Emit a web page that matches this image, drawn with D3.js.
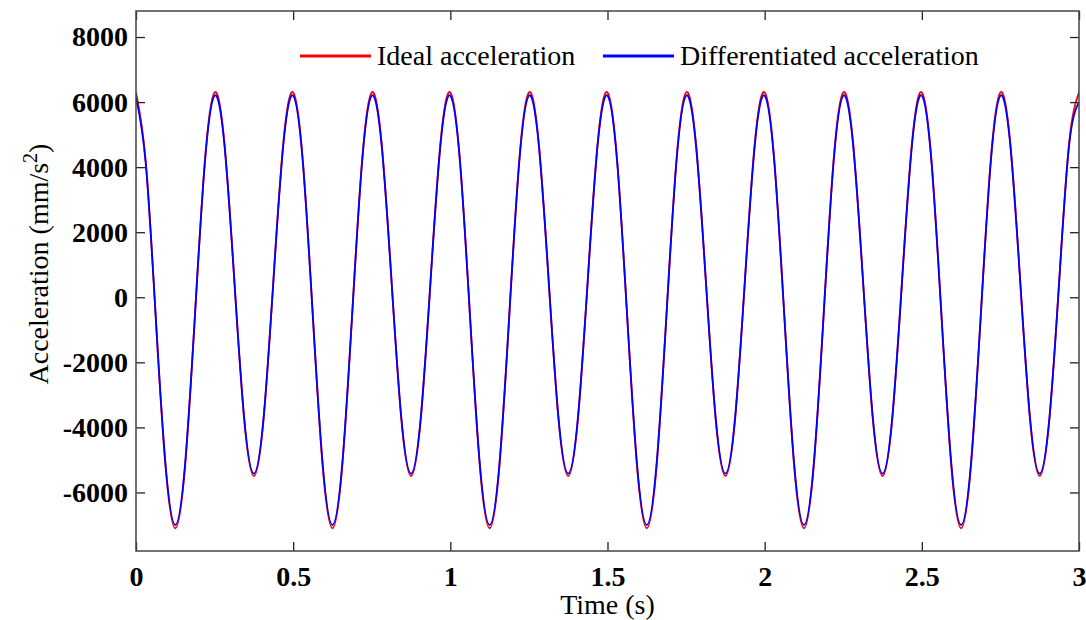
<html>
    <head>
        <style>
            body { margin: 0; background: #fff; }
            text { font-family: "Liberation Serif", "Times New Roman", serif; }
        </style>
        <script src="https://d3js.org/d3.v7.min.js"></script>
    </head>
    <body>
        <svg id="plot" width="1086" height="620"></svg>
        <script>
            // sample spacing of both series (s)
            const sampleStep = 1 / 32;

            // Ideal acceleration (mm/s^2), every 1/32 s
            const idealAcc = [
                6300, 4150, -570, -5190, -7100, -5190, -570, 4150, 6300, 4760, 570, -3720, -5500, -3720, 570, 4760,
                6300, 4150, -570, -5190, -7100, -5190, -570, 4150, 6300, 4760, 570, -3720, -5500, -3720, 570, 4760,
                6300, 4150, -570, -5190, -7100, -5190, -570, 4150, 6300, 4760, 570, -3720, -5500, -3720, 570, 4760,
                6300, 4150, -570, -5190, -7100, -5190, -570, 4150, 6300, 4760, 570, -3720, -5500, -3720, 570, 4760,
                6300, 4150, -570, -5190, -7100, -5190, -570, 4150, 6300, 4760, 570, -3720, -5500, -3720, 570, 4760,
                6300, 4150, -570, -5190, -7100, -5190, -570, 4150, 6300, 4760, 570, -3720, -5500, -3720, 570, 4760,
                6300
            ];

            // Differentiated acceleration (mm/s^2), same sample times
            const diffAcc = [
                6150, 4090, -560, -5110, -7000, -5110, -560, 4090, 6200, 4690, 560, -3660, -5420, -3660, 560, 4690,
                6200, 4090, -560, -5110, -7000, -5110, -560, 4090, 6200, 4690, 560, -3660, -5420, -3660, 560, 4690,
                6200, 4090, -560, -5110, -7000, -5110, -560, 4090, 6200, 4690, 560, -3660, -5420, -3660, 560, 4690,
                6200, 4090, -560, -5110, -7000, -5110, -560, 4090, 6200, 4690, 560, -3660, -5420, -3660, 560, 4690,
                6200, 4090, -560, -5110, -7000, -5110, -560, 4090, 6200, 4690, 560, -3660, -5420, -3660, 560, 4690,
                6200, 4090, -560, -5110, -7000, -5110, -560, 4090, 6200, 4690, 560, -3660, -5420, -3660, 560, 4690,
                6000
            ];

            const xTicks = [0, 0.5, 1, 1.5, 2, 2.5, 3];
            const yTicks = [-6000, -4000, -2000, 0, 2000, 4000, 6000, 8000];
            const seriesNames = ["Ideal acceleration", "Differentiated acceleration"];
            const seriesColors = ["#ff0000", "#0000ff"];

            const margin = {top: 11, right: 7, bottom: 69, left: 136};
            const width = 1086 - margin.left - margin.right;
            const height = 620 - margin.top - margin.bottom;

            const svg = d3.select('#plot');
            const g = svg.append('g').attr('transform', `translate(${margin.left}, ${margin.top})`);

            const xScale = d3.scaleLinear().domain([0, 3]).range([0, width]);
            const yScale = d3.scaleLinear().domain([-7800, 8800]).range([height, 0]);

            // curves
            const line = d3.line()
                .x((d, i) => xScale(i * sampleStep))
                .y(d => yScale(d))
                .curve(d3.curveNatural);

            g.append('defs').append('clipPath').attr('id', 'clip')
                .append('rect').attr('width', width).attr('height', height);

            [idealAcc, diffAcc].forEach((series, k) => {
                g.append('path')
                    .datum(series)
                    .attr('clip-path', 'url(#clip)')
                    .attr('fill', 'none')
                    .attr('stroke', seriesColors[k])
                    .attr('stroke-width', 1.8)
                    .attr('d', line);
            });

            // axes with inward ticks on all four sides
            const fmt = d => String(d);
            const styleAxis = sel => {
                sel.select('.domain').remove();
                sel.selectAll('.tick line').attr('stroke', '#222').attr('stroke-width', 1.3);
                sel.selectAll('.tick text')
                    .attr('fill', '#000')
                    .style('font-size', '28px')
                    .style('font-weight', 'bold');
            };

            g.append('g')
                .attr('transform', `translate(0, ${height})`)
                .call(d3.axisBottom(xScale).tickValues(xTicks).tickFormat(fmt).tickSizeInner(-9).tickSizeOuter(0).tickPadding(15))
                .call(styleAxis);

            g.append('g')
                .call(d3.axisTop(xScale).tickValues(xTicks).tickFormat('').tickSizeInner(-9).tickSizeOuter(0))
                .call(styleAxis);

            g.append('g')
                .call(d3.axisLeft(yScale).tickValues(yTicks).tickFormat(fmt).tickSizeInner(-9).tickSizeOuter(0).tickPadding(8))
                .call(styleAxis);

            g.append('g')
                .attr('transform', `translate(${width}, 0)`)
                .call(d3.axisRight(yScale).tickValues(yTicks).tickFormat('').tickSizeInner(-9).tickSizeOuter(0))
                .call(styleAxis);

            // frame
            g.append('rect')
                .attr('width', width)
                .attr('height', height)
                .attr('fill', 'none')
                .attr('stroke', '#444')
                .attr('stroke-width', 1.5);

            // axis titles
            svg.append('text')
                .attr('x', margin.left + width / 2)
                .attr('y', 614)
                .attr('text-anchor', 'middle')
                .style('font-size', '28px')
                .text('Time (s)');

            const yTitle = svg.append('text')
                .attr('transform', 'translate(48, 264) rotate(-90)')
                .attr('text-anchor', 'middle')
                .style('font-size', '28px');
            yTitle.append('tspan').text('Acceleration (mm/s');
            yTitle.append('tspan').attr('dy', -11).style('font-size', '20px').text('2');
            yTitle.append('tspan').attr('dy', 11).text(')');

            // legend
            const legendX = [300, 603];
            seriesNames.forEach((name, k) => {
                svg.append('line')
                    .attr('x1', legendX[k]).attr('x2', legendX[k] + 71)
                    .attr('y1', 56).attr('y2', 56)
                    .attr('stroke', seriesColors[k])
                    .attr('stroke-width', 3);
                svg.append('text')
                    .attr('x', legendX[k] + 77)
                    .attr('y', 65)
                    .style('font-size', '28px')
                    .text(name);
            });
        </script>
    </body>
</html>
